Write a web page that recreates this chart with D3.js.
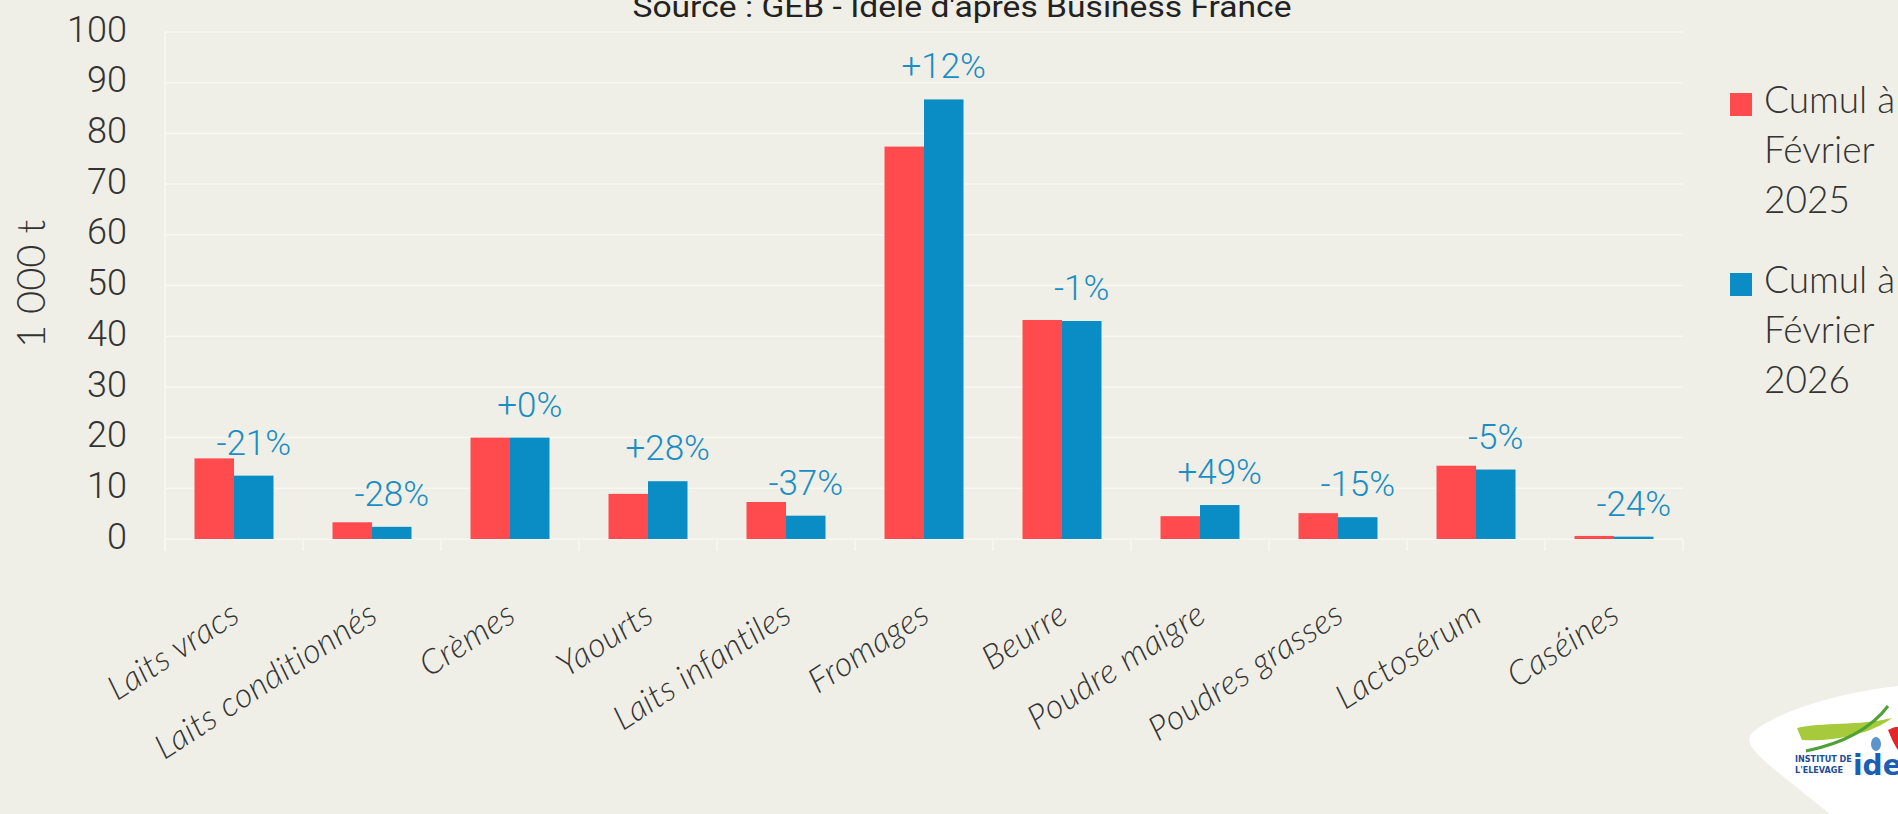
<!DOCTYPE html>
<html>
<head>
<meta charset="utf-8">
<script src="https://cdn.jsdelivr.net/npm/d3@7"></script>
<style>
  html, body { margin: 0; padding: 0; background: #efefe7; overflow: hidden; }
  svg { display: block; }
</style>
</head>
<body>
<script>
// data
var categories = ["Laits vracs", "Laits conditionnés", "Crèmes", "Yaourts", "Laits infantiles", "Fromages", "Beurre", "Poudre maigre", "Poudres grasses", "Lactosérum", "Caséines"];
var seriesNames = ["Cumul à Février 2025", "Cumul à Février 2026"];
var values2025 = [15.9, 3.3, 20.0, 8.9, 7.3, 77.4, 43.2, 4.5, 5.1, 14.45, 0.6];
var values2026 = [12.5, 2.4, 20.0, 11.4, 4.6, 86.7, 43.0, 6.7, 4.3, 13.7, 0.46];
var changeLabels = ["-21%", "-28%", "+0%", "+28%", "-37%", "+12%", "-1%", "+49%", "-15%", "-5%", "-24%"];
var yTicks = [0, 10, 20, 30, 40, 50, 60, 70, 80, 90, 100];
var legendLines = [["Cumul à", "Février", "2025"], ["Cumul à", "Février", "2026"]];

var W = 1898, H = 814;
var colors = ["#ff4b4e", "#0a8dc4"];

var svg = d3.select("body").append("svg").attr("width", W).attr("height", H);
svg.append("rect").attr("width", W).attr("height", H).attr("fill", "#efefe7");

var x = d3.scaleBand().domain(categories).range([165, 1683]);
var bw = x.bandwidth();
var xs = d3.scaleBand().domain(seriesNames).range([bw * 0.2138, bw * 0.7862]);
var y = d3.scaleLinear().domain([0, 100]).range([539, 32]);

// grid lines
svg.append("g").selectAll("line").data(yTicks).enter().append("line")
  .attr("x1", 165).attr("x2", 1683)
  .attr("y1", function(d){ return y(d); }).attr("y2", function(d){ return y(d); })
  .attr("stroke", "#f8f8f3").attr("stroke-width", 1.5);

// left axis line + category ticks
svg.append("line").attr("x1", 165).attr("x2", 165).attr("y1", y(100)).attr("y2", 551)
  .attr("stroke", "#f8f8f3").attr("stroke-width", 1.5);
svg.append("g").selectAll("line").data(categories.concat(["end"])).enter().append("line")
  .attr("x1", function(d, i){ return 165 + i * bw; }).attr("x2", function(d, i){ return 165 + i * bw; })
  .attr("y1", 539).attr("y2", 551)
  .attr("stroke", "#f8f8f3").attr("stroke-width", 1.5);

// y tick labels
svg.append("g").selectAll("text").data(yTicks).enter().append("text")
  .attr("x", 127).attr("y", function(d){ return y(d) - 3; })
  .attr("dy", "0.35em")
  .attr("text-anchor", "end")
  .attr("font-family", "Roboto").attr("font-weight", 300).attr("font-size", 36)
  .attr("fill", "#333")
  .text(function(d){ return d; });

// y axis title
svg.append("text")
  .attr("transform", "translate(45,284) rotate(-90)")
  .attr("text-anchor", "middle")
  .attr("font-family", "Lato").attr("font-weight", 300).attr("font-size", 40)
  .attr("fill", "#333")
  .text("1 000 t");

// title (cut off at the top)
svg.append("text")
  .attr("x", 962).attr("y", 17)
  .attr("text-anchor", "middle")
  .attr("font-family", "Roboto").attr("font-size", 30)
  .attr("fill", "#222")
  .attr("textLength", 659).attr("lengthAdjust", "spacingAndGlyphs")
  .text("Source : GEB - Idele d'après Business France");

// bars
var allSeries = [values2025, values2026];
allSeries.forEach(function(vals, s) {
  svg.append("g").selectAll("rect").data(vals).enter().append("rect")
    .attr("x", function(d, i){ return x(categories[i]) + xs(seriesNames[s]); })
    .attr("width", xs.bandwidth())
    .attr("y", function(d){ return y(d); })
    .attr("height", function(d){ return y(0) - y(d); })
    .attr("fill", colors[s]);
});

// change labels above the 2026 bar
svg.append("g").selectAll("text").data(changeLabels).enter().append("text")
  .attr("x", function(d, i){ return x(categories[i]) + xs(seriesNames[1]) + xs.bandwidth() / 2; })
  .attr("y", function(d, i){ return y(values2026[i]) - 21; })
  .attr("text-anchor", "middle")
  .attr("font-family", "Roboto").attr("font-weight", 300).attr("font-size", 35)
  .attr("fill", "#1a8dc4")
  .text(function(d){ return d; });

// category labels
svg.append("g").selectAll("text").data(categories).enter().append("text")
  .attr("transform", function(d){ return "translate(" + (x(d) + bw / 2 + 8) + ",620) rotate(-33)"; })
  .attr("text-anchor", "end")
  .attr("font-family", "Lato").attr("font-style", "italic").attr("font-weight", 300).attr("font-size", 34)
  .attr("letter-spacing", 0.5)
  .attr("fill", "#333")
  .text(function(d){ return d; });

// legend
var lg = svg.append("g").selectAll("g").data(seriesNames).enter().append("g")
  .attr("transform", function(d, i){ return "translate(1730," + (93 + i * 180) + ")"; });
lg.append("rect").attr("width", 22).attr("height", 23)
  .attr("fill", function(d, i){ return colors[i]; });
lg.append("text")
  .attr("font-family", "Lato").attr("font-weight", 300).attr("font-size", 37)
  .attr("fill", "#333")
  .selectAll("tspan").data(function(d, i){ return legendLines[i]; }).enter().append("tspan")
  .attr("x", 34).attr("y", function(d, j){ return 20 + j * 50; })
  .text(function(d){ return d; });

// logo (partly outside the frame)
var logo = svg.append("g");
logo.append("path")
  .attr("d", "M1898,686 C1840,692 1775,712 1752,733 C1744,742 1752,752 1790,782 L1830,814 L1898,814 Z")
  .attr("fill", "#ffffff");
logo.append("path")
  .attr("d", "M1797,728 C1820,722 1860,726 1892,718 C1870,735 1830,742 1802,740 Z")
  .attr("fill", "#a7c93c");
logo.append("path")
  .attr("d", "M1806,751 C1840,744 1870,730 1888,706")
  .attr("fill", "none").attr("stroke", "#4fa135").attr("stroke-width", 3);
logo.append("path")
  .attr("d", "M1888,730 C1895,726 1898,727 1898,727 L1898,750 C1895,746 1892,740 1888,730 Z")
  .attr("fill", "#e3262a");
logo.append("ellipse").attr("cx", 1876).attr("cy", 744).attr("rx", 5).attr("ry", 7).attr("fill", "#5b94cf");
logo.append("text").attr("x", 1795).attr("y", 762)
  .attr("font-family", "DejaVu Sans Condensed, DejaVu Sans").attr("font-weight", "bold").attr("font-size", 9)
  .attr("fill", "#1d4b94").text("INSTITUT DE");
logo.append("text").attr("x", 1795).attr("y", 773)
  .attr("font-family", "DejaVu Sans Condensed, DejaVu Sans").attr("font-weight", "bold").attr("font-size", 9)
  .attr("fill", "#1d4b94").text("L'ELEVAGE");
logo.append("text").attr("x", 1853).attr("y", 775)
  .attr("font-family", "DejaVu Sans").attr("font-weight", "bold").attr("font-size", 28)
  .attr("fill", "#1a5fb4").text("idele");
</script>
</body>
</html>
